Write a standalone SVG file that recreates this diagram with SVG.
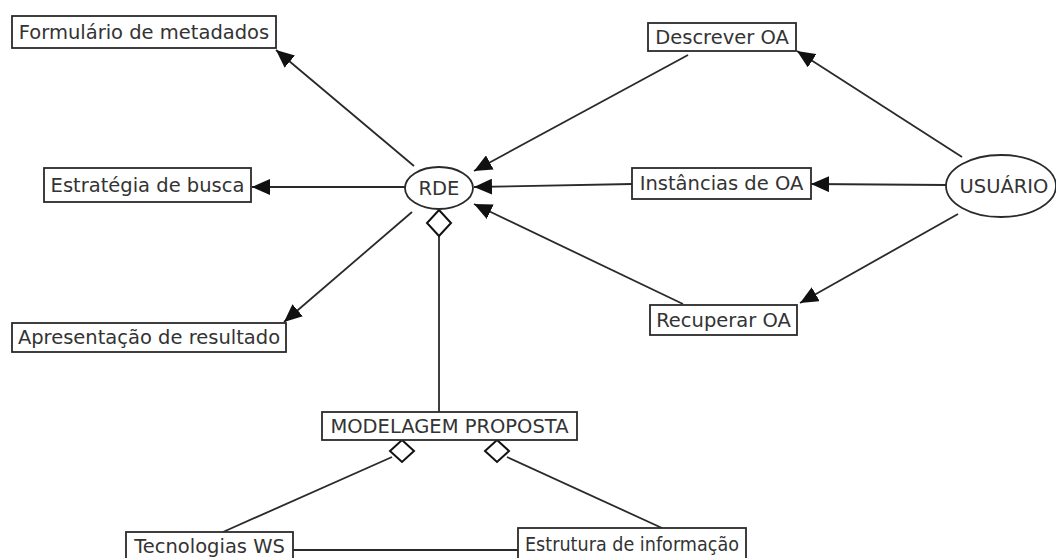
<svg xmlns="http://www.w3.org/2000/svg" width="1056" height="558" viewBox="0 0 1056 558">
  <style>
    .box { fill: #fff; stroke: #2a2a2a; stroke-width: 1.8; }
    .oval { fill: #fff; stroke: #2a2a2a; stroke-width: 1.8; }
    .lbl { font-family: "DejaVu Sans", Verdana, sans-serif; font-size: 19.5px; fill: #333; text-anchor: middle; dominant-baseline: central; }
    .edge { stroke: #2a2a2a; stroke-width: 1.8; fill: none; }
    .arrow { marker-end: url(#head); }
    .agg { fill: #fff; stroke: #111; stroke-width: 2; }
  </style>
  <defs>
    <marker id="head" markerUnits="userSpaceOnUse" markerWidth="18" markerHeight="16" viewBox="0 0 18 16" refX="18" refY="8" orient="auto">
      <path d="M0,0 L18,8 L0,16 Z" fill="#111"/>
    </marker>
  </defs>

  <rect width="1056" height="558" fill="#fff"/>

  <g id="connectors">
    <!-- RDE to its outputs -->
    <line class="edge arrow" x1="414" y1="166" x2="276" y2="50"/>
    <line class="edge arrow" x1="405" y1="187" x2="252" y2="187"/>
    <line class="edge arrow" x1="412" y1="212" x2="284" y2="322"/>
    <!-- inputs into RDE -->
    <line class="edge arrow" x1="688" y1="55" x2="474" y2="171"/>
    <line class="edge arrow" x1="632" y1="184" x2="474" y2="187"/>
    <line class="edge arrow" x1="683" y1="304" x2="474" y2="204"/>
    <!-- USUÁRIO to actions -->
    <line class="edge arrow" x1="962" y1="157" x2="797" y2="51"/>
    <line class="edge arrow" x1="946" y1="185" x2="811" y2="184"/>
    <line class="edge arrow" x1="958" y1="214" x2="800" y2="303"/>
    <!-- aggregations -->
    <line class="edge" x1="439" y1="236" x2="439" y2="412"/>
    <path class="agg" d="M439,210 L451,223 L439,236 L427,223 Z"/>
    <line class="edge" x1="392" y1="457" x2="223" y2="532"/>
    <line class="edge" x1="507" y1="457" x2="662" y2="528"/>
    <path class="agg" d="M402,440 L414,451 L402,462 L390,451 Z"/>
    <path class="agg" d="M497,440 L509,451 L497,462 L485,451 Z"/>
    <!-- link between bottom nodes -->
    <line class="edge" x1="293" y1="550" x2="518" y2="550"/>
  </g>

  <g id="formulario">
    <rect class="box" x="12" y="16" width="264" height="32"/>
    <text class="lbl" x="144" y="32">Formulário de metadados</text>
  </g>
  <g id="estrategia">
    <rect class="box" x="44" y="168" width="207" height="34"/>
    <text class="lbl" x="147.5" y="185">Estratégia de busca</text>
  </g>
  <g id="apresentacao">
    <rect class="box" x="12" y="323" width="274" height="29"/>
    <text class="lbl" x="149" y="337.5">Apresentação de resultado</text>
  </g>
  <g id="rde">
    <ellipse class="oval" cx="439" cy="188" rx="34" ry="21"/>
    <text class="lbl" x="439" y="188">RDE</text>
  </g>
  <g id="descrever">
    <rect class="box" x="648" y="23" width="148" height="28"/>
    <text class="lbl" x="722" y="37">Descrever OA</text>
  </g>
  <g id="instancias">
    <rect class="box" x="632" y="168" width="179" height="31"/>
    <text class="lbl" x="721.5" y="183.5">Instâncias de OA</text>
  </g>
  <g id="recuperar">
    <rect class="box" x="650" y="305" width="147" height="30"/>
    <text class="lbl" x="723.5" y="320">Recuperar OA</text>
  </g>
  <g id="usuario">
    <ellipse class="oval" cx="1001" cy="186" rx="55" ry="31"/>
    <text class="lbl" x="1004" y="186">USUÁRIO</text>
  </g>
  <g id="modelagem">
    <rect class="box" x="322" y="412" width="255" height="28"/>
    <text class="lbl" x="449.5" y="426">MODELAGEM PROPOSTA</text>
  </g>
  <g id="tecnologias">
    <rect class="box" x="126" y="532" width="167" height="32"/>
    <text class="lbl" x="209.5" y="546">Tecnologias WS</text>
  </g>
  <g id="estrutura">
    <rect class="box" x="518" y="528" width="228" height="36"/>
    <text class="lbl" x="632" y="544" textLength="214" lengthAdjust="spacingAndGlyphs">Estrutura de informação</text>
  </g>
</svg>
